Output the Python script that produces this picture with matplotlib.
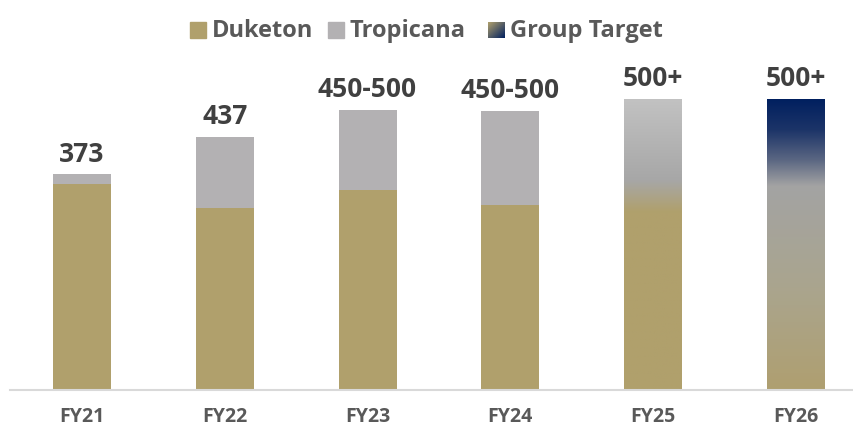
import numpy as np
import matplotlib
matplotlib.use("Agg")
from matplotlib import pyplot as plt
from matplotlib.colors import LinearSegmentedColormap
from matplotlib.patches import Rectangle

plt.rcParams['font.family'] = ['Open Sans', 'DejaVu Sans']

years = ['FY21', 'FY22', 'FY23', 'FY24', 'FY25', 'FY26']
duketon = [356, 314, 345, 320]
tropicana = [17, 123, 139, 162]
target = [503, 503]          # FY25, FY26 group target
labels = ['373', '437', '450-500', '450-500', '500+', '500+']

gold = '#B0A06C'
grey = '#B3B1B3'
navy = '#001F5F'

fig = plt.figure(figsize=(8.54, 4.30), dpi=100)
ax = fig.add_axes([10 / 854, 40 / 430, 843 / 854, 330 / 430])

x = np.arange(len(years))
w = 0.406

# stacked actuals
ax.bar(x[:4], duketon, w, color=gold)
ax.bar(x[:4], tropicana, w, bottom=duketon, color=grey)

# gradient target bars
grad25 = [(0.0, '#C2C2C2'), (0.28, '#A7A7A7'), (0.39, gold), (1.0, gold)]
grad26 = [(0.0, navy), (0.107, '#1C3468'), (0.21, '#5A6682'), (0.30, '#A3A3A3'),
          (0.65, '#AAA58E'), (1.0, '#AF9F70')]
for xi, val, stops in zip(x[4:], target, [grad25, grad26]):
    bar = ax.bar(xi, val, w, color='none', edgecolor='none')[0]
    cmap = LinearSegmentedColormap.from_list('g', stops)
    grad = np.linspace(0, 1, 256).reshape(-1, 1)
    im = ax.imshow(grad, cmap=cmap, aspect='auto', origin='upper',
                   extent=(xi - w / 2, xi + w / 2, 0, val), zorder=2)
    im.set_clip_path(bar)

totals = [d + t for d, t in zip(duketon, tropicana)] + target
for xi, tot, lab in zip(x, totals, labels):
    ax.annotate(lab, (xi, tot), xytext=(0, 9), textcoords='offset points',
                ha='center', va='baseline', fontsize=19, fontweight='bold',
                color='#404040')

ax.set_xlim(-0.504, 5.40)
ax.set_ylim(0, 570)
ax.set_xticks(x)
ax.set_xticklabels(years, fontsize=14, fontweight='bold', color='#595959')
ax.tick_params(axis='x', length=0, pad=12)
ax.set_yticks([])
for s in ['top', 'right', 'left']:
    ax.spines[s].set_visible(False)
ax.spines['bottom'].set_color('#D9D9D9')
ax.spines['bottom'].set_linewidth(1.5)

# legend drawn by hand (gradient swatch)
def fx(px):
    return px / 854

def fy(py):
    return 1 - py / 430

sq = 16
items = [(190, 'Duketon', gold), (328, 'Tropicana', grey), (488, 'Group Target', None)]
for px, name, col in items:
    if col is not None:
        fig.patches.append(Rectangle((fx(px), fy(38)), sq / 854, sq / 430,
                                     transform=fig.transFigure, color=col))
    else:
        lax = fig.add_axes([fx(px), fy(38), sq / 854, sq / 430])
        g = np.add.outer(np.linspace(0, 1, 64), np.linspace(0, 1, 64)) / 2
        lax.imshow(g, cmap=LinearSegmentedColormap.from_list('l', [gold, navy]),
                   aspect='auto', origin='upper')
        lax.axis('off')
    fig.text(fx(px + 22), fy(31), name, fontsize=17, fontweight='bold',
             color='#595959', va='center', ha='left')

fig.savefig('out.png', dpi=100)
